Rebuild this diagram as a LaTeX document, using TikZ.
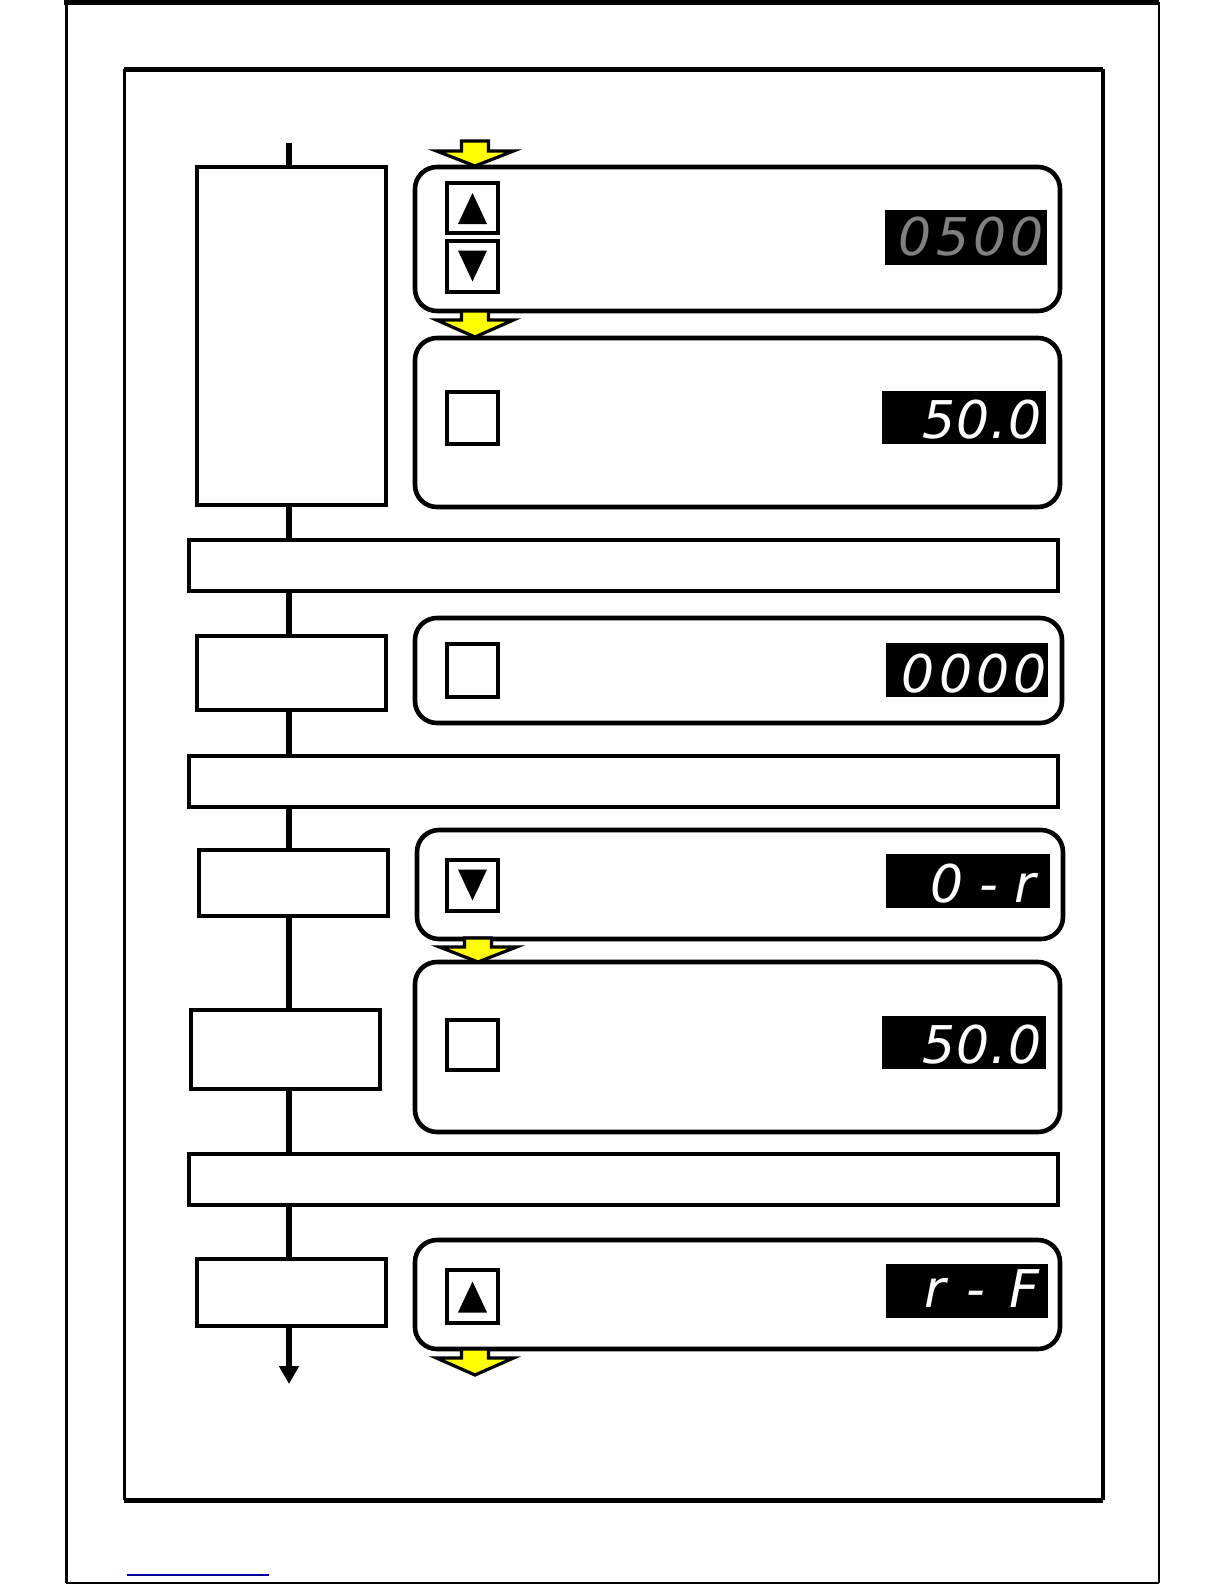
\documentclass[tikz,border=0pt]{standalone}
\usepackage{fontspec}
\usetikzlibrary{fit,arrows.meta}
\newfontfamily\segfont[LetterSpace=8]{DejaVu Sans}
\definecolor{segyellow}{RGB}{255,255,0}
\definecolor{seggray}{RGB}{128,128,128}
\definecolor{linkblue}{RGB}{0,0,160}
\newcommand\yarrowat[4]{% x, shaft top, head base, tip
  \draw[yarr] (#1-13.5,#2) -- (#1+13.5,#2) -- (#1+13.5,#3) -- (#1+38.5,#3) -- (#1,#4)
    -- (#1-38.5,#3) -- (#1-13.5,#3) -- cycle;}
\begin{document}
\begin{tikzpicture}[x=0.5bp,y=-0.5bp,
  lbox/.style={draw, line width=2.3bp, fill=white, inner sep=0pt},
  rbox/.style={draw, line width=2.3bp, rounded corners=11bp, fill=white, inner sep=0pt},
  btn/.style={draw, line width=1.6bp, fill=white, inner sep=0pt},
  disp/.style={fill=black, inner sep=0pt},
  seg/.style={font=\segfont\itshape\fontsize{26bp}{26bp}\selectfont, inner sep=0pt, anchor=base east},
  flow/.style={line width=2.6bp},
  yarr/.style={fill=segyellow, draw=black, line width=1.6bp, line join=miter},
  tri/.style={fill=black}]
\useasboundingbox (0,0) rectangle (1224,1584);

% outer frame
\draw[line width=2.5bp] (64,2) -- (1159,2);
\draw[line width=1.5bp] (66,2) -- (66,1583);
\draw[line width=0.75bp] (1159,2) -- (1159,1583);
\draw[line width=1bp] (66,1583) -- (1159,1583);
% inner frame
\draw[line width=2.5bp] (124,69) -- (1103,69);
\draw[line width=1.5bp] (124,69) -- (124,1500);
\draw[line width=1.75bp] (1103,69) -- (1103,1500);
\draw[line width=2.5bp] (124,1500) -- (1103,1500);
% link underline
\draw[linkblue, line width=0.75bp] (127,1575) -- (269,1575);

% left boxes and bands
\node[lbox, fit={(197,167)(386,505)}] (b1) {};
\node[lbox, fit={(189,540)(1058,591)}] (band1) {};
\node[lbox, fit={(197,636)(386,710)}] (b2) {};
\node[lbox, fit={(189,756)(1058,807)}] (band2) {};
\node[lbox, fit={(199,850)(388,916)}] (b3) {};
\node[lbox, fit={(191,1010)(380,1089)}] (b4) {};
\node[lbox, fit={(189,1154)(1058,1205)}] (band3) {};
\node[lbox, fit={(197,1259)(386,1326)}] (b5) {};

% flow line
\coordinate (top) at (289,143);
\coordinate (end) at (289,1384);
\draw[flow] (top) -- (top |- b1.north);
\draw[flow] (top |- b1.south) -- (top |- band1.north);
\draw[flow] (top |- band1.south) -- (top |- b2.north);
\draw[flow] (top |- b2.south) -- (top |- band2.north);
\draw[flow] (top |- band2.south) -- (top |- b3.north);
\draw[flow] (top |- b3.south) -- (top |- b4.north);
\draw[flow] (top |- b4.south) -- (top |- band3.north);
\draw[flow] (top |- band3.south) -- (top |- b5.north);
\draw[flow, -{Triangle[length=9bp,width=9.5bp]}] (top |- b5.south) -- (end);

% right rounded boxes
\node[rbox, fit={(415,167)(1060,311)}] (r1) {};
\node[rbox, fit={(415,338)(1060,507)}] (r2) {};
\node[rbox, fit={(415,618)(1062,723)}] (r3) {};
\node[rbox, fit={(417,830)(1063,939)}] (r4) {};
\node[rbox, fit={(415,962)(1060,1132)}] (r5) {};
\node[rbox, fit={(415,1240)(1060,1349)}] (r6) {};

% yellow arrows
\yarrowat{475}{141}{151}{166}
\yarrowat{475}{311}{320}{337}
\yarrowat{478}{938}{947}{962}
\yarrowat{475}{1349}{1358}{1375}

% buttons
\node[btn, fit={(447,183)(498,233)}] (k1) {};
\fill[tri] ([shift={(0,-15)}]k1.center) -- ([shift={(14.5,16)}]k1.center) -- ([shift={(-14.5,16)}]k1.center) -- cycle;
\node[btn, fit={(447,241)(498,292)}] (k2) {};
\fill[tri] ([shift={(0,15)}]k2.center) -- ([shift={(14.5,-16)}]k2.center) -- ([shift={(-14.5,-16)}]k2.center) -- cycle;
\node[btn, fit={(447,392)(498,444)}] (k3) {};
\node[btn, fit={(447,644)(498,697)}] (k4) {};
\node[btn, fit={(447,860)(498,911)}] (k5) {};
\fill[tri] ([shift={(0,15)}]k5.center) -- ([shift={(14.5,-16)}]k5.center) -- ([shift={(-14.5,-16)}]k5.center) -- cycle;
\node[btn, fit={(447,1020)(498,1070)}] (k6) {};
\node[btn, fit={(447,1270)(498,1323)}] (k7) {};
\fill[tri] ([shift={(0,-15)}]k7.center) -- ([shift={(14.5,16)}]k7.center) -- ([shift={(-14.5,16)}]k7.center) -- cycle;

% displays
\node[disp, fit={(885,210)(1047,265)}] (d1) {};
\node[seg, text=seggray] (t1) at (1044,255) {0500};
\node[disp, fit={(882,391)(1046,444)}] (d2) {};
\node[seg, text=white] (t2) at (1042,438) {\addfontfeature{LetterSpace=2}50.0};
\node[disp, fit={(886,643)(1048,697)}] (d3) {};
\node[seg, text=white] (t3) at (1047,692) {0000};
\node[disp, fit={(886,854)(1050,908)}] (d4) {};
\node[seg, text=white] (t4) at (1036,902) {\addfontfeature{LetterSpace=31}0-r};
\node[disp, fit={(882,1016)(1046,1069)}] (d5) {};
\node[seg, text=white] (t5) at (1042,1063) {\addfontfeature{LetterSpace=2}50.0};
\node[disp, fit={(886,1264)(1048,1318)}] (d6) {};
\node[seg, text=white] (t6) at (1040,1307) {\addfontfeature{LetterSpace=46}r-F};
\end{tikzpicture}
\end{document}
